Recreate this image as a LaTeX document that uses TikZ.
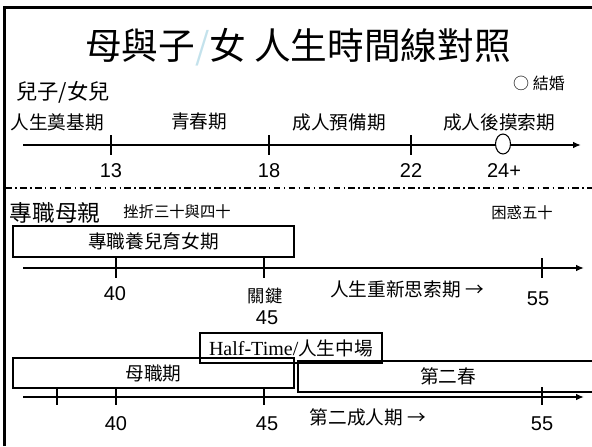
\documentclass[tikz,border=0pt]{standalone}
\usepackage{fontspec}
\setmainfont{Liberation Serif}
\setsansfont{Liberation Sans}
\newfontfamily\cjk{Noto Sans CJK TC}
\usetikzlibrary{shapes.geometric,arrows.meta}
\definecolor{paleblue}{RGB}{196,226,236}

\begin{document}
\begin{tikzpicture}[x=0.75pt,y=-0.75pt,
    axis/.style={line width=1.5pt,-{Latex[length=6pt,width=5pt]}},
    tick/.style={line width=1.5pt},
    box/.style={rectangle,draw,line width=0.8pt,inner sep=0pt},
    num/.style={inner sep=0pt,font=\sffamily\fontsize{15}{16}\selectfont},
    lbl/.style={inner sep=0pt,font=\cjk\fontsize{14}{15}\selectfont},
    note/.style={inner sep=0pt,font=\cjk\fontsize{11.5}{12}\selectfont}]
    \useasboundingbox (0,0) rectangle (592,446);
    \draw [line width=2.25pt] (4,446) -- (4,7.5) -- (592,7.5);

    \node [inner sep=0pt,font=\cjk\fontsize{27.5}{29}\selectfont] (title) at (298,47)
      {母與子{\color{paleblue}/}女\ 人生時間線對照};

    % children
    \node [inner sep=0pt,font=\cjk\fontsize{16}{17}\selectfont] (kids) at (63,92) {兒子/女兒};
    \node [inner sep=0pt,font=\cjk\fontsize{12}{13}\selectfont] (wed) at (539,83) {○ 結婚};
    \node [lbl] (found) at (57,122) {人生奠基期};
    \node [lbl] (youth) at (199,122) {青春期};
    \node [lbl] (prep) at (339,122) {成人預備期};
    \node [lbl] (explore) at (499,122) {成人後摸索期};
    \coordinate (a1s) at (23,145);
    \coordinate (a1e) at (581,145);
    \draw [axis] (a1s) -- (a1e);
    \foreach \x/\n in {111/13, 269/18, 411/22} {
      \draw [tick] (\x,135) -- (\x,155);
      \node [num] (k\n) at (\x,171) {\n};
    }
    \node [ellipse, draw, fill=white, line width=0.8pt, inner sep=0pt,
      minimum width=11.25pt, minimum height=15pt] (wedmark) at (503,144) {};
    \node [num] (k24) at (504,171) {24+};

    \draw [line width=1.2pt, dash pattern=on 5pt off 2.5pt on 1.2pt off 2.5pt] (5,188) -- (592,188);

    % full-time mother
    \node [inner sep=0pt,font=\cjk\fontsize{17}{18}\selectfont] (mom) at (55,213) {專職母親};
    \node [note] (crisis) at (177,212) {挫折三十與四十};
    \node [note] (puzzle) at (522,213) {困惑五十};
    \node [box, lbl, minimum width=210.75pt, minimum height=23.25pt] (nurture) at (153.5,241.5) {專職養兒育女期};
    \coordinate (a2s) at (23,268);
    \coordinate (a2e) at (584,268);
    \draw [axis] (a2s) -- (a2e);
    \foreach \x in {116, 264, 542} {
      \draw [tick] (\x,258) -- (\x,278);
    }
    \node [num] (m40) at (115,294) {40};
    \node [inner sep=0pt,font=\cjk\fontsize{13}{14}\selectfont] (key) at (265,296) {關鍵};
    \node [num] (m45) at (267,318) {45};
    \node [lbl] (rethink) at (407,289) {人生重新思索期 →};
    \node [num] (m55) at (538,299) {55};

    % second spring
    \node [box, minimum width=136.5pt, minimum height=22.5pt,
      font=\fontsize{15}{16}\selectfont] (half) at (291,348) {Half-Time/{\cjk\fontsize{14}{15}\selectfont 人生中場}};
    \node [box, lbl, minimum width=210.75pt, minimum height=22.5pt] (mother) at (153.5,373) {母職期};
    \node [box, lbl, minimum width=225pt, minimum height=23.25pt] (spring) at (448,376.5) {第二春};
    \coordinate (a3s) at (23,397);
    \coordinate (a3e) at (584,397);
    \draw [axis] (a3s) -- (a3e);
    \foreach \x in {57, 116, 264, 542} {
      \draw [tick] (\x,387) -- (\x,405);
    }
    \node [lbl] (adult) at (368,417) {第二成人期 →};
    \foreach \x/\n in {116/40, 267/45, 542/55} {
      \node [num] (s\n) at (\x,424) {\n};
    }
\end{tikzpicture}
\end{document}
